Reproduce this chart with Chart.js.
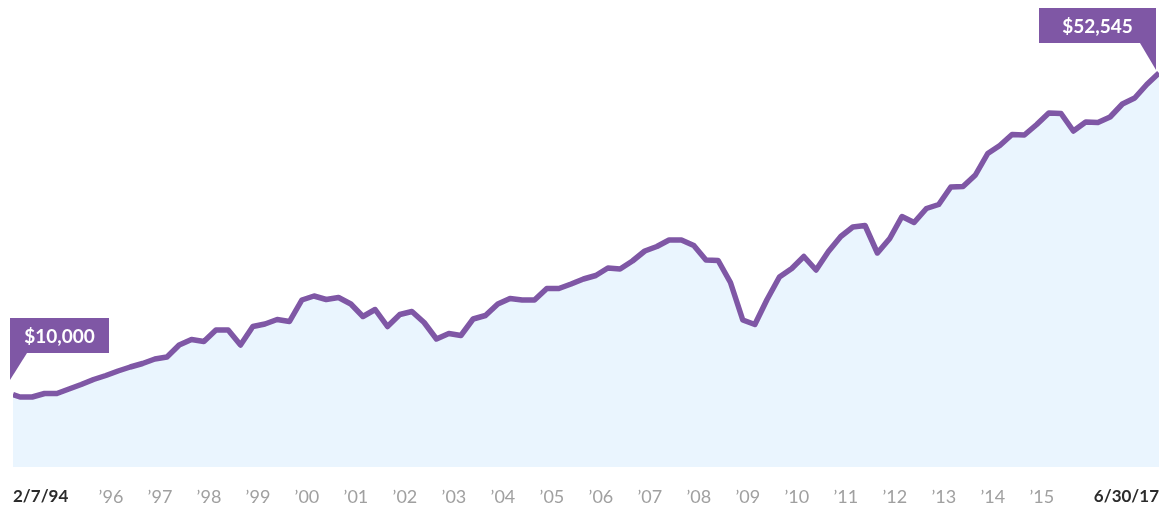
<!DOCTYPE html>
<html><head><meta charset="utf-8">
<script src="https://cdn.jsdelivr.net/npm/chart.js@4"></script>
<style>html,body{margin:0;padding:0;background:#fff;}#wrap{width:1166px;height:505px;position:relative;}</style>
</head><body><div id="wrap"><canvas id="c"></canvas></div>
<script>
const periodEnds = [
 '1994-02-07','1994-03-31','1994-06-30','1994-09-30','1994-12-31',
 '1995-03-31','1995-06-30','1995-09-30','1995-12-31',
 '1996-03-31','1996-06-30','1996-09-30','1996-12-31',
 '1997-03-31','1997-06-30','1997-09-30','1997-12-31',
 '1998-03-31','1998-06-30','1998-09-30','1998-12-31',
 '1999-03-31','1999-06-30','1999-09-30','1999-12-31',
 '2000-03-31','2000-06-30','2000-09-30','2000-12-31',
 '2001-03-31','2001-06-30','2001-09-30','2001-12-31',
 '2002-03-31','2002-06-30','2002-09-30','2002-12-31',
 '2003-03-31','2003-06-30','2003-09-30','2003-12-31',
 '2004-03-31','2004-06-30','2004-09-30','2004-12-31',
 '2005-03-31','2005-06-30','2005-09-30','2005-12-31',
 '2006-03-31','2006-06-30','2006-09-30','2006-12-31',
 '2007-03-31','2007-06-30','2007-09-30','2007-12-31',
 '2008-03-31','2008-06-30','2008-09-30','2008-12-31',
 '2009-03-31','2009-06-30','2009-09-30','2009-12-31',
 '2010-03-31','2010-06-30','2010-09-30','2010-12-31',
 '2011-03-31','2011-06-30','2011-09-30','2011-12-31',
 '2012-03-31','2012-06-30','2012-09-30','2012-12-31',
 '2013-03-31','2013-06-30','2013-09-30','2013-12-31',
 '2014-03-31','2014-06-30','2014-09-30','2014-12-31',
 '2015-03-31','2015-06-30','2015-09-30','2015-12-31',
 '2016-03-31','2016-06-30','2016-09-30','2016-12-31',
 '2017-03-31','2017-06-30'
];
const portfolioValues = [
 10000, 9669, 9669, 10132, 10132,
 10728, 11323, 11985, 12514,
 13110, 13639, 14102, 14698,
 14962, 16550, 17278, 17013,
 18535, 18535, 16550, 18998,
 19329, 19925, 19660, 22505,
 23035, 22571, 22836, 21975,
 20322, 21248, 18998, 20586,
 20983, 19528, 17344, 18072,
 17807, 19991, 20454, 21976,
 22704, 22505, 22505, 24027,
 24027, 24622, 25284, 25747,
 26740, 26608, 27666, 28990,
 29585, 30445, 30445, 29717,
 27799, 27733, 24822, 19859,
 19263, 22571, 25549, 26674,
 28262, 26475, 28923, 30908,
 32165, 32364, 28725, 30643,
 33555, 32761, 34613, 35143,
 37458, 37525, 39047, 41892,
 42951, 44406, 44340, 45729,
 47251, 47184, 44869, 46060,
 45994, 46722, 48442, 49236,
 51022, 52545
];
const tickDates = ['1994-02-07','1996-02-07','1997-02-07','1998-02-07','1999-02-07','2000-02-07','2001-02-07','2002-02-07','2003-02-07','2004-02-07','2005-02-07','2006-02-07','2007-02-07','2008-02-07','2009-02-07','2010-02-07','2011-02-07','2012-02-07','2013-02-07','2014-02-07','2015-02-07','2017-06-30'];
const tickLabels = ['2/7/94','’96','’97','’98','’99','’00','’01','’02','’03','’04','’05','’06','’07','’08','’09','’10','’11','’12','’13','’14','’15','6/30/17'];
const calloutLabels = ['$10,000', '$52,545'];

const PURPLE = '#7f57a5';
const FILL = '#eaf5fe';

function toYear(s){
  const [y,m,d] = s.split('-').map(Number);
  const a = Date.UTC(y,0,1), b = Date.UTC(y+1,0,1);
  return y + (Date.UTC(y,m-1,d) - a) / (b - a);
}
const points = periodEnds.map((d,i) => ({x: toYear(d), y: portfolioValues[i]}));
const isEdge = i => i === 0 || i === tickLabels.length - 1;

function drawCallout(ctx, text, left, top, w, h, tri){
  ctx.save();
  ctx.fillStyle = PURPLE;
  ctx.fillRect(left, top, w, h);
  ctx.beginPath();
  ctx.moveTo(tri[0][0], tri[0][1]);
  ctx.lineTo(tri[1][0], tri[1][1]);
  ctx.lineTo(tri[2][0], tri[2][1]);
  ctx.closePath();
  ctx.fill();
  ctx.fillStyle = '#ffffff';
  ctx.font = 'bold 19px Lato, "Open Sans", sans-serif';
  ctx.textAlign = 'center';
  ctx.textBaseline = 'middle';
  ctx.fillText(text, left + w/2, top + h/2 + 1);
  ctx.restore();
}

const calloutPlugin = {
  id: 'callouts',
  afterDatasetsDraw(chart){
    const ctx = chart.ctx;
    const pts = chart.getDatasetMeta(0).data;
    const f = pts[0], l = pts[pts.length-1];
    let left = f.x - 3, top = f.y - 76.5, w = 99, h = 35;
    drawCallout(ctx, calloutLabels[0], left, top, w, h,
      [[left, top+h], [left+17, top+h], [left, top+h+27]]);
    let right = l.x - 3; w = 117; top = l.y - 65; left = right - w;
    drawCallout(ctx, calloutLabels[1], left, top, w, h,
      [[right-16, top+h], [right, top+h], [right, top+h+27]]);
  }
};

new Chart(document.getElementById('c'), {
  type: 'line',
  data: {
    datasets: [{
      data: points,
      borderColor: PURPLE,
      borderWidth: 5.5,
      backgroundColor: FILL,
      fill: 'start',
      pointRadius: 0,
      tension: 0,
      borderJoinStyle: 'round'
    }]
  },
  options: {
    responsive: true,
    maintainAspectRatio: false,
    animation: false,
    layout: { padding: { left: 13, right: 7, top: 0, bottom: 0 } },
    plugins: { legend: { display: false }, tooltip: { enabled: false } },
    scales: {
      x: {
        type: 'linear',
        min: points[0].x,
        max: points[points.length-1].x,
        grid: { display: false, drawTicks: true, tickLength: 16 },
        border: { display: false },
        afterBuildTicks: s => { s.ticks = tickDates.map(d => ({ value: toYear(d) })); },
        afterFit: s => { s.height = 38; },
        ticks: {
          autoSkip: false,
          maxRotation: 0,
          minRotation: 0,
          align: 'inner',
          padding: 3,
          callback: (v, i) => tickLabels[i],
          font: c => ({ family: 'Lato, "Open Sans", sans-serif', size: isEdge(c.index) ? 17 : 18, weight: isEdge(c.index) ? 'bold' : 'normal' }),
          color: c => isEdge(c.index) ? '#2b2b2b' : '#a0a0a0'
        }
      },
      y: {
        display: false,
        min: 406,
        max: 62205
      }
    }
  },
  plugins: [calloutPlugin]
});
</script>
</body></html>
